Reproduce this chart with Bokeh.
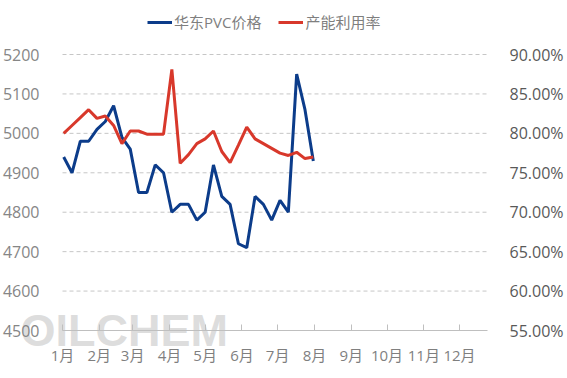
from datetime import datetime, timedelta
import pandas as pd
from bokeh.plotting import figure
from bokeh.models import (Range1d, LinearAxis, Legend, LegendItem, Label, MonthsTicker,
                          CustomJSTickFormatter, FixedTicker, PrintfTickFormatter,
                          ColumnDataSource)
from bokeh.embed import file_html
from bokeh.resources import INLINE

# ---- data ----
dates = ["2025-01-02", "2025-01-09", "2025-01-16", "2025-01-23", "2025-01-30",
         "2025-02-06", "2025-02-13", "2025-02-20", "2025-02-27",
         "2025-03-06", "2025-03-13", "2025-03-20", "2025-03-27",
         "2025-04-03", "2025-04-10", "2025-04-17", "2025-04-24",
         "2025-05-01", "2025-05-08", "2025-05-15", "2025-05-22", "2025-05-29",
         "2025-06-05", "2025-06-12", "2025-06-19", "2025-06-26",
         "2025-07-03", "2025-07-10", "2025-07-17", "2025-07-24", "2025-07-31"]
pvc_price = [4940, 4900, 4980, 4980, 5010, 5030, 5070, 4990, 4960, 4850, 4850,
             4920, 4900, 4800, 4820, 4820, 4780, 4800, 4920, 4840, 4820, 4720,
             4710, 4840, 4820, 4780, 4830, 4800, 5150, 5060, 4930]
utilization = [80.0, 81.0, 82.0, 83.0, 81.9, 82.2, 81.0, 78.7, 80.3, 80.3, 79.9,
               79.9, 79.9, 88.1, 76.2, 77.3, 78.7, 79.3, 80.3, 77.7, 76.3, 78.5,
               80.8, 79.3, 78.7, 78.1, 77.5, 77.2, 77.6, 76.8, 77.0]
price_ticks = [4500, 4600, 4700, 4800, 4900, 5000, 5100, 5200]
rate_ticks = [55, 60, 65, 70, 75, 80, 85, 90]
series_names = ["华东PVC价格", "产能利用率"]
month_suffix = "月"
watermark = "OILCHEM"

src = ColumnDataSource(dict(date=pd.to_datetime(dates), price=pvc_price, rate=utilization))

# ---- layout geometry (pixels) ----
W, H = 567, 378
PL, PR, PT, PB = 62, 80, 54, 48          # plot-area margins inside the canvas
plot_w, plot_h = W - PL - PR, H - PT - PB

axis_start = datetime(2025, 1, 1)
axis_end = datetime(2025, 12, 24, 13, 0)
span = (axis_end - axis_start).total_seconds()
sec_per_px = span / plot_w
x_lo = axis_start - timedelta(seconds=PL * sec_per_px)
x_hi = axis_end + timedelta(seconds=PR * sec_per_px)

def ext(lo, hi):
    per = (hi - lo) / plot_h
    return lo - PB * per, hi + PT * per

y_lo, y_hi = ext(price_ticks[0], price_ticks[-1])
r_lo, r_hi = ext(rate_ticks[0], rate_ticks[-1])

def ms(d):
    return (d - datetime(1970, 1, 1)).total_seconds() * 1000.0

BLUE = "#0c3c8a"
RED = "#d8382b"
FONT = "'Open Sans', 'Noto Sans CJK SC'"

p = figure(width=W, height=H, output_backend="svg", toolbar_location=None,
           x_axis_type="datetime",
           x_range=Range1d(x_lo, x_hi), y_range=Range1d(y_lo, y_hi),
           min_border=0, min_border_left=0, min_border_right=0,
           min_border_top=0, min_border_bottom=0)
p.outline_line_color = None
p.background_fill_color = "white"
p.border_fill_color = "white"
p.extra_y_ranges = {"rate": Range1d(r_lo, r_hi)}

# watermark
wm = Label(x=20, y=48, x_units="screen", y_units="screen", text=watermark,
           text_font="Liberation Sans", text_font_style="bold", text_font_size="45px",
           text_color="#d4d4d4", text_alpha=0.8, text_baseline="alphabetic", level="underlay")
p.add_layout(wm)

# grid lines (bounded to the plot area)
gy = price_ticks[1:]
p.segment(x0=[axis_start] * len(gy), x1=[axis_end] * len(gy), y0=gy, y1=gy,
          line_color="#c6c6c6", line_width=1, line_dash="4 3", level="underlay")

r1 = p.line("date", "price", source=src, line_color=BLUE, line_width=3)
r2 = p.line("date", "rate", source=src, line_color=RED, line_width=3, y_range_name="rate")

# x axis
xa = p.xaxis[0]
xa.fixed_location = price_ticks[0]
xa.bounds = (ms(axis_start) - 3600e3, ms(axis_end))
xa.ticker = MonthsTicker(months=list(range(12)))
xa.formatter = CustomJSTickFormatter(code="return (new Date(tick).getUTCMonth()+1) + '%s';" % month_suffix)
xa.axis_line_color = "#bfbfbf"
xa.major_tick_line_color = "#bfbfbf"
xa.major_tick_in = 6
xa.major_tick_out = 0
xa.minor_tick_line_color = None
xa.major_label_text_font = FONT
xa.major_label_text_font_size = "15px"
xa.major_label_text_color = "#7f7f7f"
xa.major_label_standoff = 14

# left axis
ya = p.yaxis[0]
ya.fixed_location = ms(axis_start)
ya.ticker = FixedTicker(ticks=price_ticks)
ya.axis_line_color = None
ya.major_tick_line_color = None
ya.minor_tick_line_color = None
ya.major_label_text_font = FONT
ya.major_label_text_font_size = "16px"
ya.major_label_text_color = "#868686"
ya.major_label_standoff = 17

# right axis
ra = LinearAxis(y_range_name="rate", ticker=FixedTicker(ticks=rate_ticks),
                formatter=PrintfTickFormatter(format="%.2f%%"),
                fixed_location=ms(axis_end))
ra.axis_line_color = None
ra.major_tick_line_color = None
ra.minor_tick_line_color = None
ra.major_label_text_font = FONT
ra.major_label_text_font_size = "16px"
ra.major_label_text_color = "#595959"
ra.major_label_standoff = 16
p.add_layout(ra, "right")

p.xgrid.visible = False
p.ygrid.visible = False

legend = Legend(items=[LegendItem(label=series_names[0], renderers=[r1]),
                       LegendItem(label=series_names[1], renderers=[r2])],
                orientation="horizontal", location=(147, 346),
                padding=0, margin=0, spacing=17, label_standoff=2,
                glyph_width=25, glyph_height=20, label_height=20,
                label_text_font=FONT, label_text_font_size="15px",
                label_text_color="#7f7f7f",
                background_fill_alpha=0, border_line_color=None)
p.add_layout(legend, "center")

open("out.html", "w").write(file_html(p, INLINE))
